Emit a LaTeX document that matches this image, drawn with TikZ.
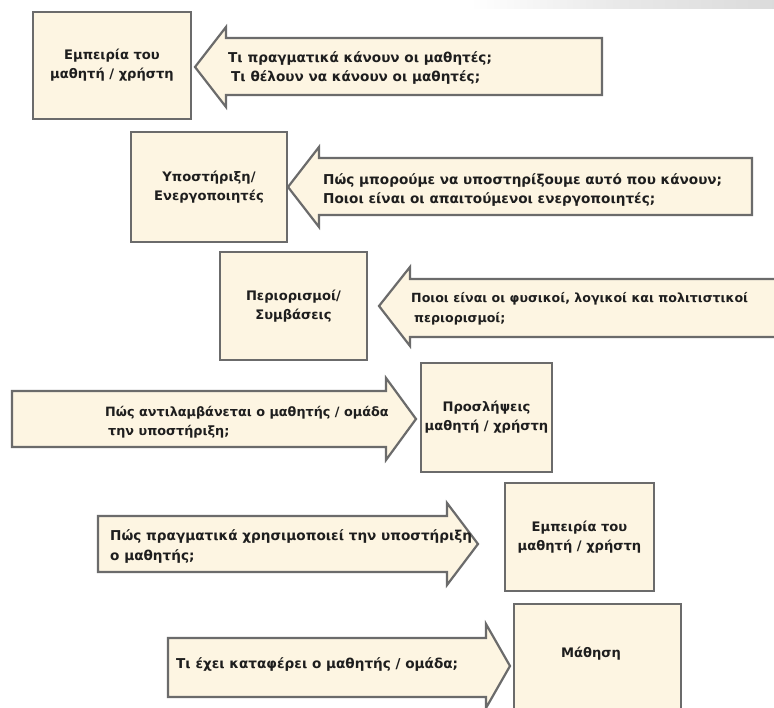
\documentclass[tikz,border=0pt]{standalone}
\usepackage{fontspec}
\setmainfont{DejaVu Sans}
\definecolor{boxfill}{HTML}{FDF5E2}
\definecolor{boxline}{HTML}{6B6B6B}
\definecolor{ink}{HTML}{1E1E1E}
\begin{document}
\begin{tikzpicture}[x=1pt,y=-1pt,
  txt/.style={font=\fontsize{13.6}{19.5}\selectfont\bfseries, text=ink, inner sep=0pt},
  boxtxt/.style={font=\fontsize{13.1}{19}\selectfont\bfseries, text=ink, inner sep=0pt},
  panel/.style={draw=boxline, fill=boxfill, line width=2.2pt, rectangle,
    inner sep=0pt, align=center, boxtxt},
  blockarrow/.style={draw=boxline, fill=boxfill, line width=2.2pt, line join=miter},
  question/.style={txt, align=left, anchor=west}]
\useasboundingbox (0,0) rectangle (774,708);
\fill[white] (0,0) rectangle (774,708);
\clip (0,0) rectangle (774,708);

% faint grey band along the top edge
\shade[left color=white, right color=black!14, middle color=black!9] (470,0) rectangle (774,9);

% --- left-pointing block arrows (questions feeding the boxes) ---
\draw[blockarrow] (602,38) -- (226,38) -- (226,27) -- (195,67) -- (226,107) -- (226,95) -- (602,95) -- cycle;
\draw[blockarrow] (752,158) -- (319,158) -- (319,147) -- (288,187) -- (319,227) -- (319,215) -- (752,215) -- cycle;
\draw[blockarrow] (790,279) -- (410,279) -- (410,267) -- (379,306) -- (410,346) -- (410,337) -- (790,337) -- cycle;

% --- right-pointing block arrows ---
\draw[blockarrow] (12,391) -- (386,391) -- (386,378) -- (416,419) -- (386,460) -- (386,447) -- (12,447) -- cycle;
\draw[blockarrow] (98,516) -- (447,516) -- (447,503) -- (478,544) -- (447,585) -- (447,572) -- (98,572) -- cycle;
\draw[blockarrow] (168,638) -- (486,638) -- (486,624) -- (510,666) -- (486,708) -- (486,697) -- (168,697) -- cycle;

% --- boxes ---
\node[panel, minimum width=158pt, minimum height=107pt] (exp1) at (112,65.5) {Εμπειρία του\\μαθητή / χρήστη};
\node[panel, minimum width=156pt, minimum height=110pt] (supp) at (209,187) {Υποστήριξη/\\Ενεργοποιητές};
\node[panel, minimum width=147pt, minimum height=108pt] (cons) at (293.5,306) {Περιορισμοί/\\Συμβάσεις};
\node[panel, minimum width=131pt, minimum height=109pt] (perc) at (486.5,417.5) {Προσλήψεις\\μαθητή / χρήστη};
\node[panel, minimum width=149pt, minimum height=108pt] (exp2) at (579.5,537) {Εμπειρία του\\μαθητή / χρήστη};
\node[panel, minimum width=167pt, minimum height=117pt, anchor=north west] (learn) at (513,603) {};
\node[boxtxt] (learnt) at (591,654) {Μάθηση};

% --- questions inside the arrows ---
\node[question] (q1) at (228,68) {Τι πραγματικά κάνουν οι μαθητές;\\\hspace*{3pt}Τι θέλουν να κάνουν οι μαθητές;};
\node[question] (q2) at (323,190) {Πώς μπορούμε να υποστηρίξουμε αυτό που κάνουν;\\Ποιοι είναι οι απαιτούμενοι ενεργοποιητές;};
\node[question, font=\fontsize{12.6}{19.5}\selectfont\bfseries] (q3) at (411,309) {Ποιοι είναι οι φυσικοί, λογικοί και πολιτιστικοί\\\hspace*{3pt}περιορισμοί;};
\node[question, font=\fontsize{12.8}{19.5}\selectfont\bfseries] (q4) at (105,422) {Πώς αντιλαμβάνεται ο μαθητής / ομάδα\\\hspace*{3pt}την υποστήριξη;};
\node[question] (q5) at (110,546.5) {Πώς πραγματικά χρησιμοποιεί την υποστήριξη\\ο μαθητής;};
\node[question] (q6) at (176,664) {Τι έχει καταφέρει ο μαθητής / ομάδα;};
\end{tikzpicture}
\end{document}
